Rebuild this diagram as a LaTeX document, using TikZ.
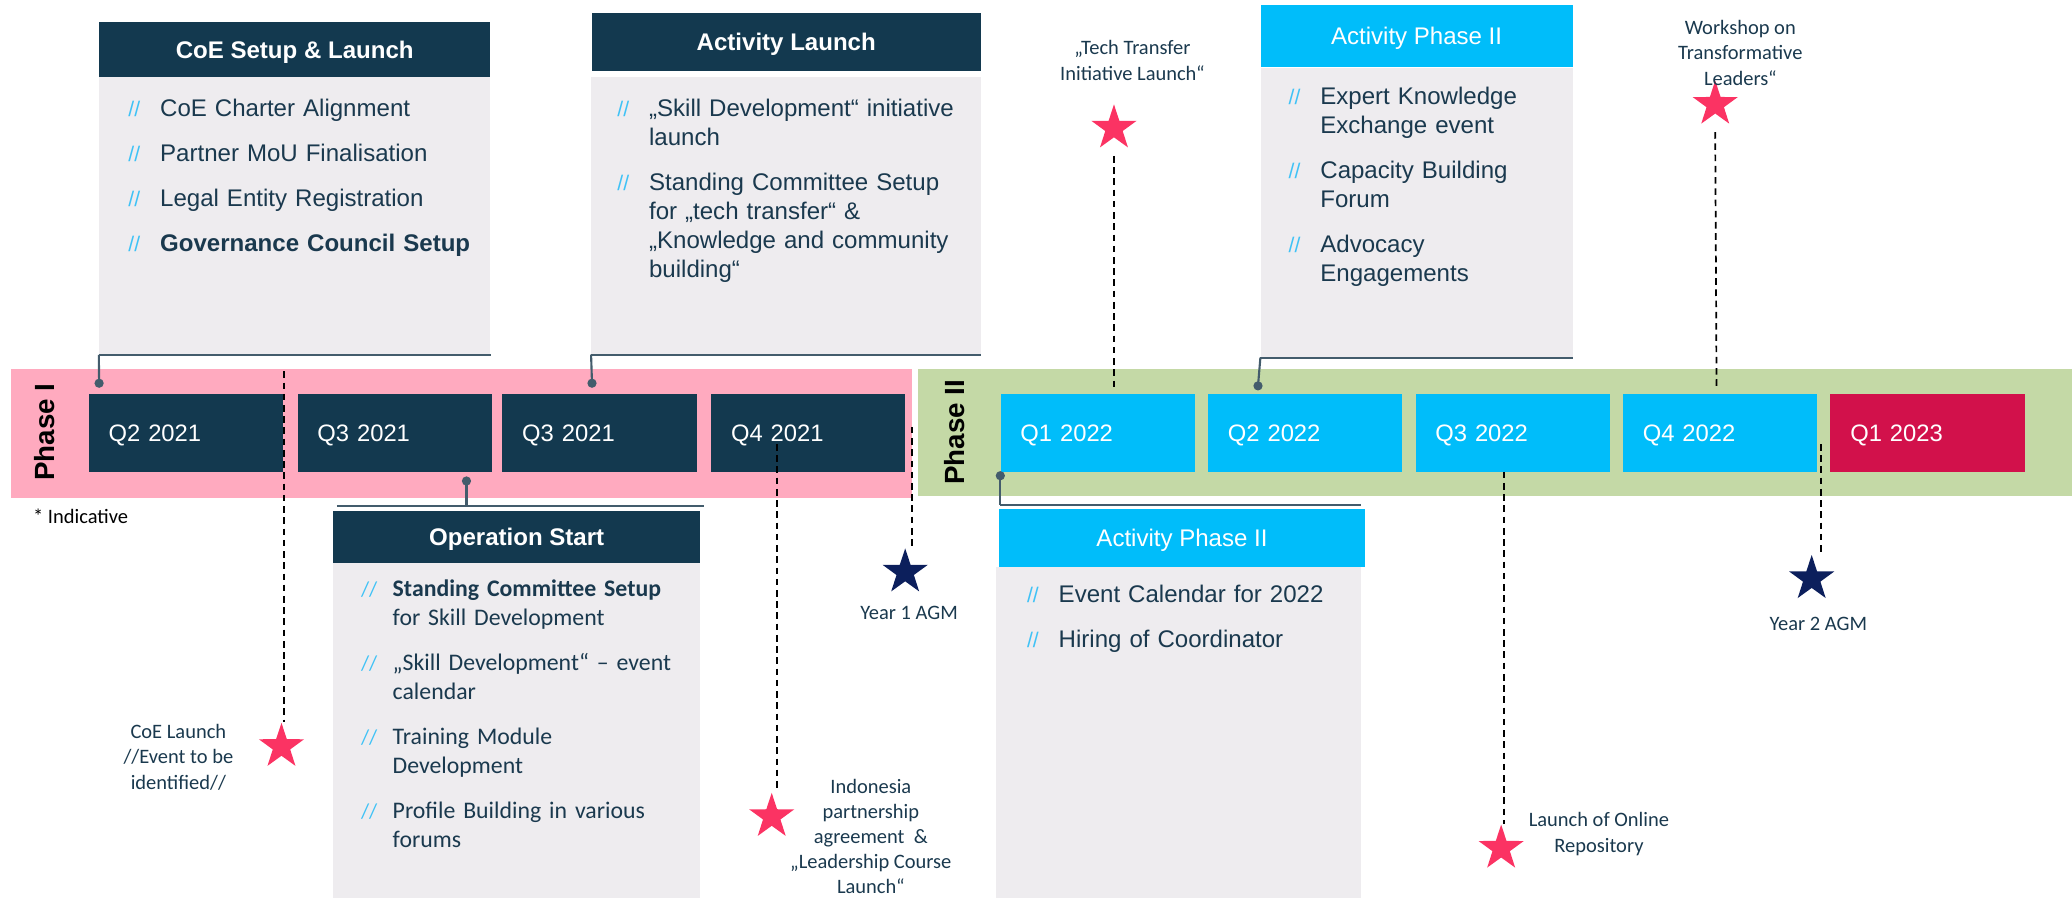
\documentclass[tikz,border=0pt]{standalone}
\usepackage{fontspec}
\setmainfont{Liberation Sans}
\newfontfamily\calfont{Carlito}
\usetikzlibrary{shapes.geometric,positioning}

\definecolor{navy}{HTML}{13394F}
\definecolor{skyb}{HTML}{00BDFA}
\definecolor{crim}{HTML}{D2114B}
\definecolor{bandpink}{HTML}{FFAABF}
\definecolor{bandgreen}{HTML}{C4D9A6}
\definecolor{boxgray}{HTML}{EEECEF}
\definecolor{inktext}{HTML}{1A394E}
\definecolor{slate}{HTML}{435C6C}
\definecolor{starpink}{HTML}{FB3363}
\definecolor{starnavy}{HTML}{0C1F5C}
\definecolor{slashblue}{HTML}{3FC2F6}

\newcommand{\slashmark}{{\color{slashblue}\fontsize{16}{16}\selectfont//}}
\newcommand{\bitem}[1]{\par\hangindent=24pt\hangafter=1\noindent\makebox[24pt][l]{\slashmark}#1\par\vspace{12pt}}

\begin{document}
\begin{tikzpicture}[x=1pt, y=-1pt,
    qbox/.style={rectangle, anchor=west, minimum width=147pt, minimum height=59pt,
      inner xsep=15pt, text width=117pt, align=left, text=white,
      text height=13pt, text depth=0pt, font=\fontsize{18}{20}\selectfont},
    headbox/.style={rectangle, fill=navy, text=white, inner sep=0pt,
      text height=13pt, text depth=0pt, font=\bfseries\fontsize{18.2}{20}\selectfont},
    bodybox/.style={rectangle, fill=boxgray, inner sep=0pt, anchor=north},
    listtext/.style={anchor=north west, inner sep=0pt, text=inktext, text width=300pt,
      align=left, font=\fontsize{18.2}{22}\selectfont},
    phase/.style={rotate=90, font=\bfseries\fontsize{21}{21}\selectfont},
    milestone/.style={star, star points=5, star point ratio=2.6, minimum size=36pt,
      inner sep=0pt, fill=starpink},
    agm/.style={milestone, fill=starnavy},
    note/.style={text=inktext, align=center, inner sep=0pt,
      font=\calfont\fontsize{15.5}{19.5}\selectfont},
    dashline/.style={line width=1.3pt, dash pattern=on 5pt off 3.5pt},
    link/.style={draw=slate, line width=1.6pt},
    pin/.style={circle, fill=slate, inner sep=0pt, minimum size=7pt}]
  \useasboundingbox (0,0) rectangle (1568,679);

  % phase bands
  \fill[bandpink] (8,279) rectangle (690,377);
  \fill[bandgreen] (695,279) rectangle (1568,375);
  \node[phase] (ph1) at (34,327) {Phase I};
  \node[phase] (ph2) at (722,327) {Phase II};
  \node[font=\calfont\fontsize{15.5}{18}\selectfont, inner sep=0pt] (indic) at (61,391) {* Indicative};

  % quarters
  \foreach \n/\x/\q/\c in {q1/67/Q2 2021/navy,q2/225/Q3 2021/navy,q3/380/Q3 2021/navy,
      q4/538/Q4 2021/navy,q5/757/Q1 2022/skyb,q6/914/Q2 2022/skyb,q7/1071/Q3 2022/skyb,
      q8/1228/Q4 2022/skyb,q9/1385/Q1 2023/crim}
    \node[qbox, fill=\c] (\n) at (\x,327.5) {\q};

  % CoE Setup & Launch
  \node[headbox, minimum width=296pt, minimum height=41pt] (coehead) at (223,37.5) {CoE Setup \& Launch};
  \node[bodybox, minimum width=296pt, minimum height=210pt] (coebody) at (coehead.south) {};
  \node[listtext] (coelist) at (97,66) {%
    \bitem{CoE Charter Alignment}
    \bitem{Partner MoU Finalisation}
    \bitem{Legal Entity Registration}
    \bitem{\textbf{Governance Council Setup}}};
  \node[pin] (coepin) at (75,290) {};
  \draw[link] (coebody.south west) -- (coebody.south east);
  \draw[link] (coebody.south west) -- (coepin.center);

  % Activity Launch
  \node[headbox, minimum width=294pt, minimum height=44pt] (acthead) at (595,32) {Activity Launch};
  \node[bodybox, minimum width=295pt, minimum height=210pt] (actbody) at (595,58) {};
  \node[listtext] (actlist) at (467,66) {%
    \bitem{„Skill Development“ initiative\newline launch}
    \bitem{Standing Committee Setup\newline for „tech transfer“ \&\newline „Knowledge and community\newline building“}};
  \node[pin] (actpin) at (448,290) {};
  \draw[link] (actbody.south west) -- (actbody.south east);
  \draw[link] (actbody.south west) -- (actpin.center);

  % Activity Phase II (top)
  \node[headbox, fill=skyb, font=\fontsize{18.2}{20}\selectfont, minimum width=236pt,
    minimum height=47pt] (ph2head) at (1072,27.5) {Activity Phase II};
  \node[bodybox, minimum width=236pt, minimum height=219pt] (ph2body) at (ph2head.south) {};
  \node[listtext] (ph2list) at (975,57) {%
    \bitem{Expert Knowledge\newline Exchange event}
    \bitem{Capacity Building\newline Forum}
    \bitem{Advocacy\newline Engagements}};
  \node[pin] (ph2pin) at (952,292) {};
  \draw[link] (ph2body.south west) -- (ph2body.south east);
  \draw[link] (ph2body.south west) -- (ph2pin.center);

  % Operation Start
  \node[pin] (oppin) at (353,364) {};
  \coordinate (opl) at (255,383);
  \coordinate (opr) at (533,383);
  \draw[link] (opl) -- (opr);
  \draw[link] (oppin.center) -- (oppin |- opl);
  \node[headbox, minimum width=278pt, minimum height=39pt] (ophead) at (391,406.5) {Operation Start};
  \node[bodybox, minimum width=278pt, minimum height=264pt] (opbody) at (ophead.south) {};
  \node[listtext, font=\calfont\fontsize{18}{22}\selectfont] (oplist) at (273,429) {%
    \bitem{\textbf{Standing Committee Setup}\newline for Skill Development}
    \bitem{„Skill Development“ – event\newline calendar}
    \bitem{Training Module\newline Development}
    \bitem{Profile Building in various\newline forums}};

  % Activity Phase II (bottom)
  \node[pin] (ph3pin) at (757,360) {};
  \coordinate (ph3l) at (757,382);
  \coordinate (ph3r) at (1030,382);
  \draw[link] (ph3l) -- (ph3r);
  \draw[link] (ph3pin.center) -- (ph3l);
  \node[headbox, fill=skyb, font=\fontsize{18.2}{20}\selectfont, minimum width=277pt,
    minimum height=44pt] (ph3head) at (894.5,407) {Activity Phase II};
  \node[bodybox, minimum width=276pt, minimum height=264pt] (ph3body) at (892,429) {};
  \node[listtext] (ph3list) at (777,434) {%
    \bitem{Event Calendar for 2022}
    \bitem{Hiring of Coordinator}};

  % milestones
  \node[milestone] (s1) at (213,565) {};
  \node[note] (l1) at (135,573) {CoE Launch\\//Event to be\\identified//};
  \coordinate (c1) at (215,281);
  \draw[dashline] (c1) -- (c1 |- s1.north);

  \node[milestone] (s2) at (584,618) {};
  \node[note, font=\calfont\fontsize{15.5}{19}\selectfont] (l2) at (659,633) {Indonesia\\partnership\\agreement~ \&\\„Leadership Course\\Launch“};
  \coordinate (c2) at (588,336);
  \draw[dashline] (c2) -- (c2 |- s2.north);

  \node[agm] (s3) at (685,433) {};
  \node[note] (l3) at (688,464) {Year 1 AGM};
  \coordinate (c3) at (690,323);
  \draw[dashline] (c3) -- (c3 |- s3.north);

  \node[milestone] (s4) at (843,97) {};
  \node[note] (l4) at (857,46) {„Tech Transfer\\Initiative Launch“};
  \coordinate (c4) at (843,295);
  \draw[dashline] ([yshift=-21pt]s4.center) -- (c4);

  \node[milestone] (s5) at (1298,79) {};
  \node[note] (l5) at (1317,40) {Workshop on\\Transformative\\Leaders“};
  \coordinate (c5) at (1299,292);
  \draw[dashline] ([yshift=-21pt]s5.center) -- (c5);

  \node[milestone] (s6) at (1136,642) {};
  \node[note] (l6) at (1210,631) {Launch of Online\\Repository};
  \coordinate (c6) at (1138,357);
  \draw[dashline] (c6) -- (c6 |- s6.north);

  \node[agm] (s7) at (1371,438) {};
  \node[note] (l7) at (1376,472) {Year 2 AGM};
  \coordinate (c7) at (1378,336);
  \draw[dashline] (c7) -- (c7 |- s7.north);
\end{tikzpicture}
\end{document}
